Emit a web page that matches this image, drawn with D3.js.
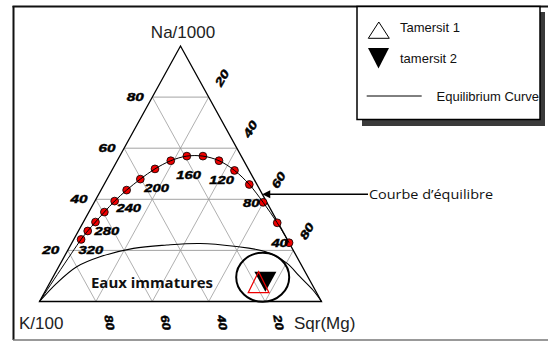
<!DOCTYPE html>
<html>
<head>
<meta charset="utf-8">
<script src="https://cdn.jsdelivr.net/npm/d3@7"></script>
<style>
  body { margin: 0; background: #fff; }
  svg { display: block; }
  .grid { stroke: #9c9c9c; stroke-width: 0.8; fill: none; }
  .gridH { stroke: #8c8c8c; stroke-width: 0.8; fill: none; }
  .edge { stroke: #000; stroke-width: 1.3; fill: none; }
  .tick-lbl { font-family: "Liberation Sans", Arial, sans-serif; font-weight: bold; font-style: italic; font-size: 11.5px; fill: #000; stroke: #000; stroke-width: 0.45; }
  .axis-name { font-family: "Liberation Sans", Arial, sans-serif; font-size: 17px; fill: #222; }
  .legend-txt { font-family: "Liberation Sans", Arial, sans-serif; font-size: 13px; fill: #111; }
</style>
</head>
<body>
<div id="chart"></div>
<script>
// Chart size
var svgWidth = 548;
var svgHeight = 341;

// ternary values are percentages of Na/1000 and Sqr(Mg); K/100 is the rest
var gridTicks = [20, 40, 60, 80];

// full equilibrium curve, one dot every 20 degrees
var eqTemps = [40, 60, 80, 100, 120, 140, 160, 180, 200, 220, 240, 260, 280, 300, 320, 340, 360];
var eqNa = [23.0, 30.8, 38.8, 45.8, 51.3, 55.1, 56.9, 56.9, 55.1, 51.9, 47.9, 43.6, 39.3, 35.0, 31.1, 27.6, 24.3];
var eqMg = [77.0, 68.9, 59.9, 51.5, 43.5, 36.1, 29.5, 23.8, 19.0, 15.0, 11.8, 9.1, 7.0, 5.5, 4.3, 3.3, 2.6];

// temperature annotations along the curve
var tempLabels = ["40", "80", "120", "160", "200", "240", "280", "320"];
var tempLabelNa = [22.9, 38.4, 47.6, 49.5, 44.5, 36.5, 27.6, 20.2];
var tempLabelMg = [73.7, 55.9, 40.8, 28.1, 19.3, 13.4, 10.1, 8.1];

// immature waters boundary
var immNa = [0, 7.1, 13.6, 17.5, 20.8, 22.1, 22.7, 21.6, 19.4, 15.0, 9.7, 4.5, 0];
var immMg = [0, 2.5, 6.4, 12.7, 22.9, 34.1, 45.6, 58.2, 70.8, 80.2, 87.5, 94.7, 100];

// samples
var sampleNames = ["Tamersit 1", "tamersit 2"];
var sampleNa = [6.2, 9.0];
var sampleMg = [74.6, 75.6];

// scales: Na goes up, (Mg + Na/2) goes right
var yScale = d3.scaleLinear().domain([0, 100]).range([301.5, 46]);
var xScale = d3.scaleLinear().domain([0, 100]).range([39.5, 321.5]);

function tern(na, mg) {
  return [xScale(mg + na / 2), yScale(na)];
}

var svg = d3.select("#chart")
  .append("svg")
  .attr("width", svgWidth)
  .attr("height", svgHeight);

// outer frame (right side runs off the picture)
svg.append("line").attr("x1", 13.5).attr("y1", 6).attr("x2", 13.5).attr("y2", 340)
  .attr("stroke", "#111").attr("stroke-width", 2);
svg.append("line").attr("x1", 12.5).attr("y1", 6.5).attr("x2", 548).attr("y2", 6.5)
  .attr("stroke", "#111").attr("stroke-width", 2);
svg.append("line").attr("x1", 13).attr("y1", 340).attr("x2", 548).attr("y2", 340)
  .attr("stroke", "#777").attr("stroke-width", 1.5);

var line = d3.line();

// grid lines
gridTicks.forEach(function(v) {
  svg.append("path").attr("class", "gridH").attr("d", line([tern(v, 0), tern(v, 100 - v)]));
  svg.append("path").attr("class", "grid").attr("d", line([tern(0, v), tern(100 - v, v)]));
  svg.append("path").attr("class", "grid").attr("d", line([tern(0, 100 - v), tern(100 - v, 0)]));
});

// triangle
svg.append("path").attr("class", "edge")
  .attr("d", line([tern(0, 0), tern(100, 0), tern(0, 100)]) + "Z");

// Na labels on the left side
svg.append("g").selectAll("text")
  .data(gridTicks)
  .enter()
  .append("text")
  .attr("class", "tick-lbl")
  .attr("x", d => tern(d, 0)[0] - 17)
  .attr("y", d => tern(d, 0)[1] + 4)
  .attr("text-anchor", "middle")
  .attr("textLength", 17)
  .attr("lengthAdjust", "spacingAndGlyphs")
  .text(d => d);

// Mg labels on the right side
svg.append("g").selectAll("text")
  .data(gridTicks)
  .enter()
  .append("text")
  .attr("class", "tick-lbl")
  .attr("transform", function(d) {
    var p = tern(100 - d + 7.5, d - 7.5);
    return "translate(" + (p[0] + 24) + "," + p[1] + ") rotate(-60)";
  })
  .attr("y", 4)
  .attr("text-anchor", "middle")
  .attr("textLength", 17)
  .attr("lengthAdjust", "spacingAndGlyphs")
  .text(d => d);

// K labels under the base
svg.append("g").selectAll("text")
  .data(gridTicks.slice().reverse())
  .enter()
  .append("text")
  .attr("class", "tick-lbl")
  .attr("transform", function(d) {
    var p = tern(0, 100 - d);
    return "translate(" + (p[0] + 13.5) + "," + (p[1] + 21) + ") rotate(80)";
  })
  .attr("y", 4)
  .attr("text-anchor", "middle")
  .attr("textLength", 15)
  .attr("lengthAdjust", "spacingAndGlyphs")
  .text(d => d);

// vertex names
svg.append("text").attr("class", "axis-name").attr("x", 183).attr("y", 38)
  .attr("text-anchor", "middle").text("Na/1000");
svg.append("text").attr("class", "axis-name").attr("x", 19).attr("y", 329).text("K/100");
svg.append("text").attr("class", "axis-name").attr("x", 294).attr("y", 329).text("Sqr(Mg)");

// immature waters curve
var immPts = immNa.map((n, i) => tern(n, immMg[i]));
svg.append("path")
  .attr("d", d3.line().curve(d3.curveCatmullRom)(immPts))
  .attr("fill", "none").attr("stroke", "#000").attr("stroke-width", 1.1);

svg.append("text")
  .attr("x", 152).attr("y", 288)
  .attr("text-anchor", "middle")
  .attr("textLength", 122)
  .attr("lengthAdjust", "spacingAndGlyphs")
  .style("font-family", "'Open Sans', 'Noto Sans', sans-serif")
  .style("font-weight", "bold")
  .style("font-size", "14px")
  .style("fill", "#111")
  .text("Eaux immatures");

// equilibrium dots
var eqPts = eqNa.map((n, i) => tern(n, eqMg[i]));
svg.append("g").selectAll("circle")
  .data(eqPts)
  .enter()
  .append("circle")
  .attr("cx", d => d[0])
  .attr("cy", d => d[1])
  .attr("r", 3.9)
  .attr("fill", "#ee0000")
  .attr("stroke", "#000")
  .attr("stroke-width", 0.8);

// equilibrium curve, runs on to the K corner
svg.append("path")
  .attr("d", d3.line().curve(d3.curveCatmullRom)(eqPts.concat([tern(0, 0)])))
  .attr("fill", "none").attr("stroke", "#000").attr("stroke-width", 1);

// temperature labels
svg.append("g").selectAll("text")
  .data(tempLabels)
  .enter()
  .append("text")
  .attr("class", "tick-lbl")
  .attr("x", (d, i) => tern(tempLabelNa[i], tempLabelMg[i])[0])
  .attr("y", (d, i) => tern(tempLabelNa[i], tempLabelMg[i])[1] + 4)
  .attr("text-anchor", "middle")
  .attr("textLength", d => d.length * 8.2)
  .attr("lengthAdjust", "spacingAndGlyphs")
  .text(d => d);

// arrow to the curve
var tip = tern(42, 58);
svg.append("line").attr("x1", 368).attr("y1", tip[1]).attr("x2", tip[0] + 4).attr("y2", tip[1])
  .attr("stroke", "#000").attr("stroke-width", 1.4);
svg.append("path")
  .attr("d", "M" + tip[0] + "," + tip[1] + "l8,-4l0,8Z")
  .attr("fill", "#000");
svg.append("text")
  .attr("x", 369).attr("y", tip[1] + 5)
  .attr("textLength", 124)
  .attr("lengthAdjust", "spacingAndGlyphs")
  .style("font-family", "'Open Sans', 'Noto Sans', sans-serif")
  .style("font-size", "13.5px")
  .style("fill", "#111")
  .text("Courbe d\u2019\u00e9quilibre");

// samples
var s2 = tern(sampleNa[1], sampleMg[1]);
svg.append("path")
  .attr("transform", "translate(" + s2[0] + "," + s2[1] + ")")
  .attr("d", "M-11,-6.7L11,-6.7L0,13.3Z")
  .attr("fill", "#000");
var s1 = tern(sampleNa[0], sampleMg[0]);
svg.append("path")
  .attr("transform", "translate(" + s1[0] + "," + s1[1] + ")")
  .attr("d", "M0,-14L-10.4,7L10.4,7Z")
  .attr("fill", "none")
  .attr("stroke", "#ee0000")
  .attr("stroke-width", 1.2);

// circle round the samples
var ring = tern(9.5, 74.4);
svg.append("ellipse")
  .attr("cx", ring[0]).attr("cy", ring[1])
  .attr("rx", 26.5).attr("ry", 24.5)
  .attr("fill", "none").attr("stroke", "#000").attr("stroke-width", 2);

// legend box with shadow
var legend = svg.append("g");
legend.append("rect").attr("x", 362).attr("y", 12).attr("width", 183).attr("height", 114).attr("fill", "#3a3a3a");
legend.append("rect").attr("x", 357).attr("y", 6.5).attr("width", 183).attr("height", 113)
  .attr("fill", "#fff").attr("stroke", "#000").attr("stroke-width", 1.5);

legend.append("path").attr("d", "M378.8,22L368.3,38.3L389.3,38.3Z")
  .attr("fill", "#fff").attr("stroke", "#000").attr("stroke-width", 1);
legend.append("text").attr("class", "legend-txt").attr("x", 400).attr("y", 32).text(sampleNames[0]);

legend.append("path").attr("d", "M368,48L389,48L378.5,68.5Z").attr("fill", "#000");
legend.append("text").attr("class", "legend-txt").attr("x", 400).attr("y", 63).text(sampleNames[1]);

legend.append("line").attr("x1", 366.7).attr("y1", 96).attr("x2", 421.7).attr("y2", 96)
  .attr("stroke", "#000").attr("stroke-width", 1);
legend.append("text").attr("class", "legend-txt").attr("x", 436.5).attr("y", 100.5).text("Equilibrium Curve");
</script>
</body>
</html>
